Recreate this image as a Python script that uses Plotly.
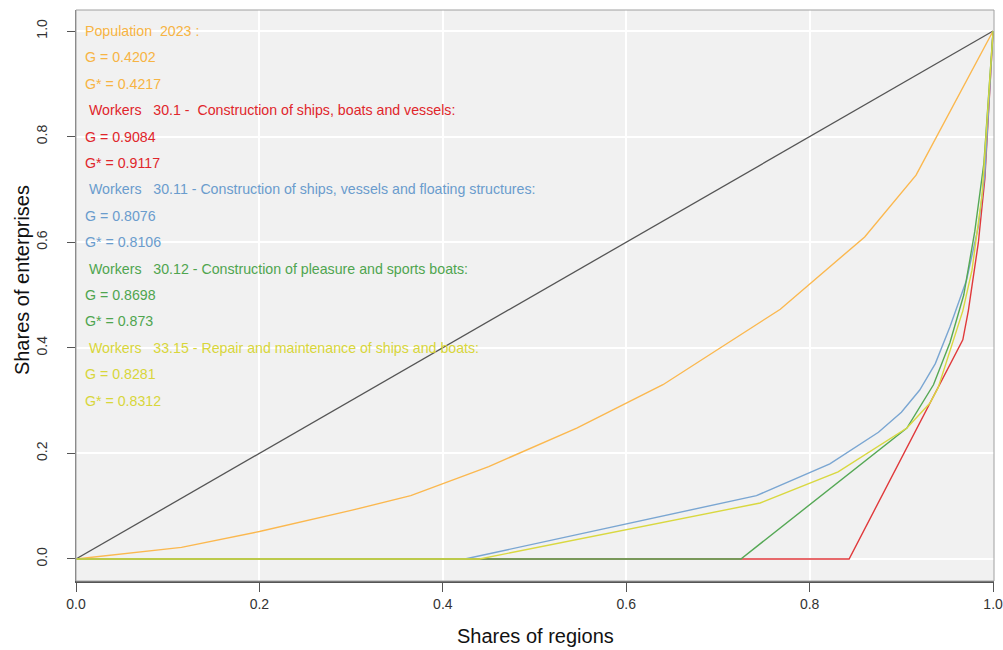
import plotly.graph_objects as go

# ---- data ----
diag_x = [0, 1]
diag_y = [0, 1]

pop_x = [0, 0.115, 0.2, 0.3, 0.365, 0.45, 0.546, 0.64, 0.768, 0.86, 0.916, 1.0]
pop_y = [0, 0.022, 0.052, 0.092, 0.12, 0.175, 0.248, 0.33, 0.473, 0.61, 0.727, 1.0]

w301_x = [0, 0.843, 0.967, 0.973, 0.984, 0.991, 1.0]
w301_y = [0, 0, 0.415, 0.47, 0.6, 0.72, 1.0]

w3011_x = [0, 0.424, 0.742, 0.822, 0.875, 0.9, 0.92, 0.937, 0.953, 0.971, 0.984, 0.991, 1.0]
w3011_y = [0, 0, 0.12, 0.18, 0.24, 0.278, 0.32, 0.37, 0.44, 0.528, 0.63, 0.73, 1.0]

w3012_x = [0, 0.725, 0.906, 0.935, 0.953, 0.968, 0.98, 0.99, 1.0]
w3012_y = [0, 0, 0.248, 0.33, 0.41, 0.5, 0.62, 0.75, 1.0]

w3315_x = [0, 0.44, 0.746, 0.831, 0.906, 0.931, 0.94, 0.967, 0.977, 0.988, 1.0]
w3315_y = [0, 0, 0.106, 0.165, 0.248, 0.295, 0.324, 0.47, 0.547, 0.69, 1.0]

tick_vals = [0, 0.2, 0.4, 0.6, 0.8, 1.0]
tick_text = ["0.0", "0.2", "0.4", "0.6", "0.8", "1.0"]

text_lines = [
    ("Population\u00a0\u00a02023 :", "pop"),
    ("G = 0.4202", "pop"),
    ("G* = 0.4217", "pop"),
    ("\u00a0Workers\u00a0\u00a0\u00a030.1 -\u00a0 Construction of ships, boats and vessels:", "r"),
    ("G = 0.9084", "r"),
    ("G* = 0.9117", "r"),
    ("\u00a0Workers\u00a0\u00a0\u00a030.11 - Construction of ships, vessels and floating structures:", "b"),
    ("G = 0.8076", "b"),
    ("G* = 0.8106", "b"),
    ("\u00a0Workers\u00a0\u00a0\u00a030.12 - Construction of pleasure and sports boats:", "g"),
    ("G = 0.8698", "g"),
    ("G* = 0.873", "g"),
    ("\u00a0Workers\u00a0\u00a0\u00a033.15 - Repair and maintenance of ships and boats:", "y"),
    ("G = 0.8281", "y"),
    ("G* = 0.8312", "y"),
]

colors = {
    "pop": "#f7b443",
    "r": "#e0262b",
    "b": "#6a9ccd",
    "g": "#4fa54f",
    "y": "#d8d63a",
}
line_colors = {
    "pop": "#fbb84f",
    "r": "#e0393b",
    "b": "#7aa6d2",
    "g": "#55a855",
    "y": "#d9d840",
}

FONT = "Liberation Sans Narrow, Arial Narrow, Liberation Sans, Arial, sans-serif"

fig = go.Figure()
fig.add_trace(go.Scatter(x=diag_x, y=diag_y, mode="lines",
                         line=dict(color="#555555", width=1.3), showlegend=False))
for xs, ys, key in [(pop_x, pop_y, "pop"), (w301_x, w301_y, "r"),
                    (w3011_x, w3011_y, "b"), (w3012_x, w3012_y, "g"),
                    (w3315_x, w3315_y, "y")]:
    fig.add_trace(go.Scatter(x=xs, y=ys, mode="lines",
                             line=dict(color=line_colors[key], width=1.4),
                             showlegend=False))

for i, (txt, key) in enumerate(text_lines):
    fig.add_annotation(x=0.008, y=1.0 - 0.05 * i, xref="x", yref="y",
                       text=txt, showarrow=False, xanchor="left", yanchor="middle",
                       font=dict(family=FONT, size=14.2, color=colors[key]))

# axis titles
fig.add_annotation(x=0.5, y=-0.0963, xref="paper", yref="paper",
                   text="Shares of regions", showarrow=False,
                   xanchor="center", yanchor="middle",
                   font=dict(family=FONT, size=20, color="#111111"))
fig.add_annotation(x=-0.0588, y=0.527, xref="paper", yref="paper",
                   text="Shares of enterprises", showarrow=False, textangle=-90,
                   xanchor="center", yanchor="middle",
                   font=dict(family=FONT, size=20, color="#111111"))

# panel frame
fig.add_shape(type="rect", xref="paper", yref="paper", x0=0, x1=1, y0=0, y1=1,
              line=dict(color="#a0a0a0", width=1), layer="above")

fig.update_layout(
    width=1003, height=650,
    margin=dict(l=76, r=9, t=10, b=69, autoexpand=False),
    paper_bgcolor="white",
    plot_bgcolor="#f1f1f1",
    font=dict(family=FONT, color="#222222"),
    xaxis=dict(range=[0, 1.001], tickvals=tick_vals, ticktext=tick_text,
               automargin=False, ticklabeloverflow="allow",
               showgrid=True, gridcolor="white", gridwidth=1.5, zeroline=False,
               showline=True, linecolor="#555555", linewidth=2,
               ticks="outside", ticklen=9, tickcolor="#555555", tickwidth=1,
               tickfont=dict(size=14, family=FONT, color="#333333")),
    yaxis=dict(range=[-0.0417, 1.0398], tickvals=tick_vals, ticktext=tick_text,
               automargin=False,
               showgrid=True, gridcolor="white", gridwidth=1.5, zeroline=False,
               showline=True, linecolor="#777777", linewidth=1,
               ticks="outside", ticklen=8, tickcolor="#555555", tickwidth=1,
               tickangle=-90, ticklabelstandoff=14,
               tickfont=dict(size=14, family=FONT, color="#333333")),
)

fig.write_html("out.html")
